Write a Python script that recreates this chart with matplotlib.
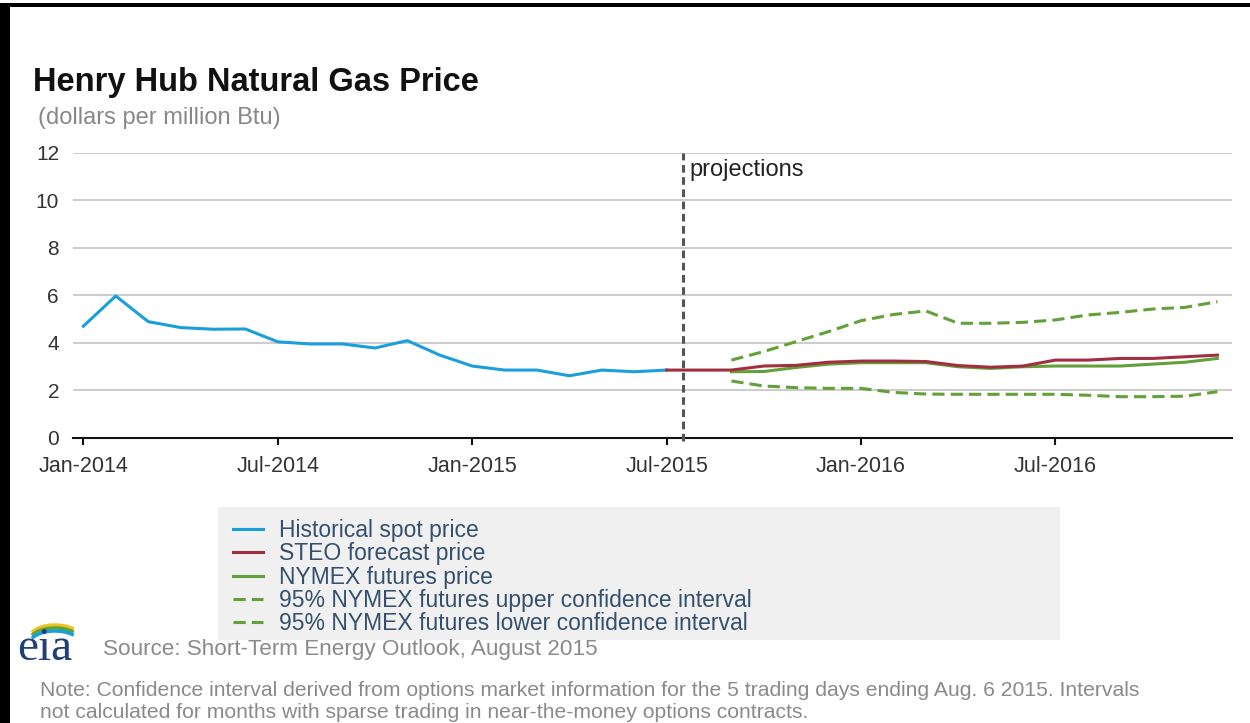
import matplotlib
matplotlib.use("Agg")
import matplotlib.pyplot as plt
from matplotlib.patches import Rectangle, Arc

plt.rcParams["font.family"] = ["Liberation Sans", "DejaVu Sans"]

# month index 0 = Jan-2014
tick_pos = [0, 6, 12, 18, 24, 30]
tick_labels = ["Jan-2014", "Jul-2014", "Jan-2015", "Jul-2015", "Jan-2016", "Jul-2016"]
y_ticks = [0, 2, 4, 6, 8, 10, 12]

# Jan-2014 .. Jul-2015
hist_start = 0
hist_price = [4.71, 5.98, 4.90, 4.65, 4.58, 4.59, 4.05, 3.96, 3.96, 3.79,
              4.10, 3.49, 3.03, 2.86, 2.86, 2.62, 2.86, 2.79, 2.86]

# Jul-2015 .. Dec-2016
steo_start = 18
steo_price = [2.86, 2.86, 2.86, 3.03, 3.06, 3.19, 3.24, 3.24, 3.22, 3.05,
              2.98, 3.03, 3.28, 3.28, 3.35, 3.35, 3.42, 3.49]

# Sep-2015 .. Dec-2016
nymex_start = 20
nymex_price = [2.79, 2.80, 2.97, 3.11, 3.17, 3.17, 3.17, 3.00, 2.93, 3.00,
               3.03, 3.03, 3.03, 3.11, 3.19, 3.35]
upper_ci = [3.28, 3.64, 4.06, 4.48, 4.94, 5.20, 5.35, 4.83, 4.83, 4.87,
            4.97, 5.18, 5.29, 5.43, 5.50, 5.74]
lower_ci = [2.40, 2.19, 2.12, 2.09, 2.09, 1.92, 1.85, 1.84, 1.84, 1.84,
            1.84, 1.80, 1.74, 1.74, 1.76, 1.95]

projection_x = 18.5

BLUE = "#1a9fdc"
RED = "#a0303f"
GREEN = "#62a03a"
W, H = 1250, 723


def months(start, vals):
    return list(range(start, start + len(vals)))


fig = plt.figure(figsize=(12.5, 7.23), dpi=100)
ax = fig.add_axes([73 / W, 1 - 438 / H, (1232 - 73) / W, (438 - 153) / H])

ax.plot(months(hist_start, hist_price), hist_price, color=BLUE, lw=2.2,
        label="Historical spot price", zorder=4)
ax.plot(months(steo_start, steo_price), steo_price, color=RED, lw=2.2,
        label="STEO forecast price", zorder=4)
ax.plot(months(nymex_start, nymex_price), nymex_price, color=GREEN, lw=2.2,
        label="NYMEX futures price", zorder=3)
ax.plot(months(nymex_start, upper_ci), upper_ci, color=GREEN, lw=2.2,
        dashes=(4, 2), label="95% NYMEX futures upper confidence interval")
ax.plot(months(nymex_start, lower_ci), lower_ci, color=GREEN, lw=2.2,
        dashes=(4, 2), label="95% NYMEX futures lower confidence interval")

ax.axvline(projection_x, ymin=-0.01, ymax=1.0, color="#555555", lw=2.2,
           dashes=(2.5, 1.5), clip_on=False, zorder=5)
ax.text(projection_x + 0.22, 11.28, "projections", fontsize=17,
        color="#222222", va="center", ha="left")

ax.set_xlim(-0.32, 35.45)
ax.set_ylim(0, 12)
ax.set_yticks(y_ticks)
ax.set_xticks(tick_pos)
ax.set_xticklabels(tick_labels)
ax.yaxis.grid(True, color="#c8c8c8", lw=1.3)
ax.set_axisbelow(True)
for s in ["top", "right", "left"]:
    ax.spines[s].set_visible(False)
ax.spines["bottom"].set_color("#111111")
ax.spines["bottom"].set_linewidth(1.5)
ax.tick_params(axis="y", length=0, pad=10, labelsize=15, labelcolor="#333333")
ax.tick_params(axis="x", length=5, width=1.5, direction="out", pad=8,
               labelsize=15.5, labelcolor="#333333", color="#111111")

# title block
fig.text(33 / W, 1 - 83 / H, "Henry Hub Natural Gas Price", fontsize=23.5,
         fontweight="bold", color="#111111", va="center", ha="left")
fig.text(38 / W, 1 - 118 / H, "(dollars per million Btu)", fontsize=17,
         color="#888888", va="center", ha="left")

# legend with gray panel
fig.patches.append(Rectangle((218 / W, 1 - 640 / H), (1060 - 218) / W, (640 - 507) / H,
                             transform=fig.transFigure, facecolor="#f0f0f0",
                             edgecolor="none", zorder=0))
handles, labels = ax.get_legend_handles_labels()
leg = fig.legend(handles, labels, loc="upper left",
                 bbox_to_anchor=(233 / W, 1 - 519 / H), frameon=False,
                 fontsize=16.5, labelspacing=0.015, handlelength=1.3,
                 handletextpad=0.7, borderaxespad=0, borderpad=0)
for t in leg.get_texts():
    t.set_color("#34506f")

# source + note
fig.text(103 / W, 1 - 650 / H, "Source: Short-Term Energy Outlook, August 2015",
         fontsize=16.2, color="#8a8a8a", va="center", ha="left")
fig.text(40 / W, 1 - 690 / H,
         "Note: Confidence interval derived from options market information for the 5 trading days ending Aug. 6 2015. Intervals",
         fontsize=15.2, color="#8a8a8a", va="center", ha="left")
fig.text(40 / W, 1 - 712 / H,
         "not calculated for months with sparse trading in near-the-money options contracts.",
         fontsize=15.2, color="#8a8a8a", va="center", ha="left")

# eia logo
fig.text(17 / W, 1 - 660 / H, "eia", fontsize=34, family="Liberation Serif",
         color="#1f3f77", va="baseline", ha="left")
for col, dy in [("#f2c21b", 0), ("#5aa43a", 3), ("#1a9fdc", 6)]:
    fig.patches.append(Arc((55 / W, 1 - (640 + dy) / H), 54 / W, 30 / H,
                           theta1=45, theta2=150, transform=fig.transFigure,
                           color=col, lw=2.5))

# black border remnants of the screenshot
fig.patches.append(Rectangle((0, 1 - 7 / H), 1, 4 / H, transform=fig.transFigure,
                             facecolor="black", edgecolor="none"))
fig.patches.append(Rectangle((0, 0), 10 / W, 1 - 3 / H, transform=fig.transFigure,
                             facecolor="black", edgecolor="none"))

fig.savefig("out.png", dpi=100)
plt.close(fig)
